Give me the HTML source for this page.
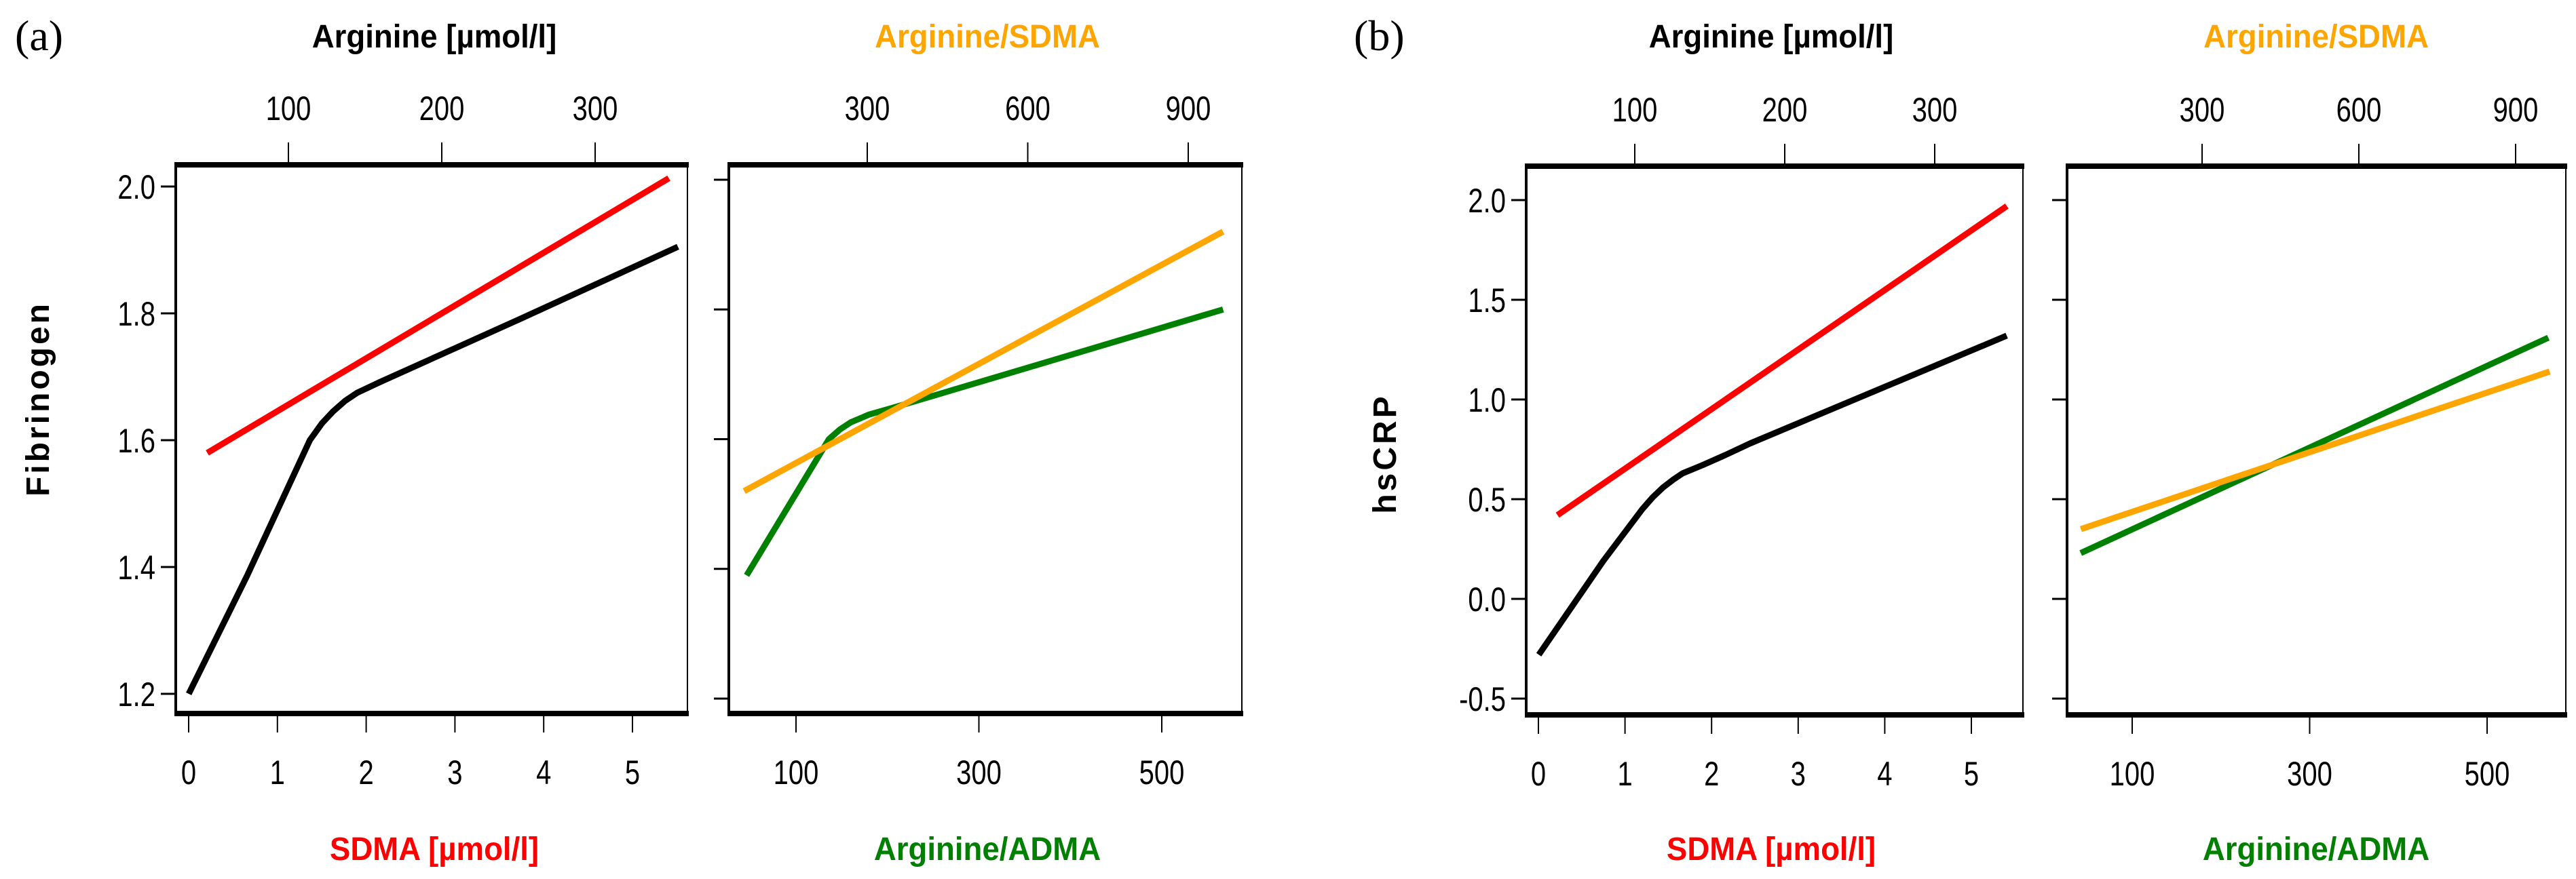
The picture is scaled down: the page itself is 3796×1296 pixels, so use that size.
<!DOCTYPE html>
<html><head><meta charset="utf-8"><style>
html,body{margin:0;padding:0;background:#fff;}
svg{display:block;}
</style></head><body>
<svg id="chart" width="3796" height="1296" viewBox="0 0 3796 1296" xmlns="http://www.w3.org/2000/svg"></svg>
<script>
// ---- data ----
// Panel a (Fibrinogen)
const aSdmaX = [0.21, 5.41];
const aSdmaY = [1.58, 2.013];
const aArgX = [35, 73, 114, 122, 129, 137, 145, 160, 250, 354];
const aArgY = [1.2, 1.386, 1.6, 1.627, 1.645, 1.662, 1.675, 1.692, 1.79, 1.905];
const aArgSdmaX = [70, 965];
const aArgSdmaY = [1.52, 1.92];
const aArgAdmaX = [46, 136, 148, 160, 180, 205, 353, 567];
const aArgAdmaY = [1.39, 1.60, 1.615, 1.626, 1.638, 1.648, 1.71, 1.80];
// Panel b (hsCRP)
const bSdmaX = [0.22, 5.41];
const bSdmaY = [0.42, 1.97];
const bArgX = [36, 79, 105, 112, 119, 126, 132, 145, 160, 177, 348];
const bArgY = [-0.28, 0.19, 0.45, 0.51, 0.56, 0.60, 0.63, 0.67, 0.72, 0.78, 1.32];
const bArgSdmaX = [68, 965];
const bArgSdmaY = [0.35, 1.14];
const bArgAdmaX = [42, 569];
const bArgAdmaY = [0.23, 1.31];
// tick labels
const aYTicks = [1.2, 1.4, 1.6, 1.8, 2.0];
const aYLabels = ["1.2", "1.4", "1.6", "1.8", "2.0"];
const bYTicks = [-0.5, 0, 0.5, 1.0, 1.5, 2.0];
const bYLabels = ["-0.5", "0.0", "0.5", "1.0", "1.5", "2.0"];
const sdmaTicks = [0, 1, 2, 3, 4, 5];
const argTicks = [100, 200, 300];
const argAdmaTicks = [100, 300, 500];
const argSdmaTicks = [300, 600, 900];

const NS = "http://www.w3.org/2000/svg";
const svg = document.getElementById("chart");
function mk(tag, attrs, parent) {
  const e = document.createElementNS(NS, tag);
  for (const k in attrs) e.setAttribute(k, attrs[k]);
  (parent || svg).appendChild(e);
  return e;
}
function lin(d0, d1, r0, r1) { return v => r0 + (v - d0) * (r1 - r0) / (d1 - d0); }
function txt(x, y, s, size, fill, anchor, weight, sx, name) {
  const t = mk("text", {x: 0, y: 0, "font-size": size, fill: fill, "text-anchor": anchor, "font-weight": weight,
    "font-family": "Liberation Sans, sans-serif",
    transform: `translate(${x},${y}) scale(${sx},1)`});
  
  
  t.textContent = s;
  return t;
}
function series(xs, ys, sx, sy, color, w, name) {
  const d = xs.map((v, i) => (i ? "L" : "M") + sx(v).toFixed(1) + "," + sy(ys[i]).toFixed(1)).join(" ");
  const p = mk("path", {d: d, fill: "none", stroke: color, "stroke-width": w, "stroke-linejoin": "round"});
  
  
}
function box(l, r, t, b, name) {
  const g = mk("g", {});
  
  
  mk("line", {x1: l, y1: t, x2: l, y2: b, stroke: "#000", "stroke-width": 4}, g);
  mk("line", {x1: r, y1: t, x2: r, y2: b, stroke: "#000", "stroke-width": 2}, g);
  mk("line", {x1: l - 2, y1: t, x2: r + 2, y2: t, stroke: "#000", "stroke-width": 8}, g);
  mk("line", {x1: l - 2, y1: b, x2: r + 2, y2: b, stroke: "#000", "stroke-width": 8}, g);
}
function xTicksTop(ticks, sx, top, name) {
  ticks.forEach(v => {
    const l = mk("line", {x1: sx(v), y1: top - 33, x2: sx(v), y2: top, stroke: "#000", "stroke-width": 2});
    
    
    txt(sx(v), top - 66, String(v), 50, "#000", "middle", "normal", 0.8, name + '-label');
  });
}
function xTicksBottom(ticks, sx, bot, name) {
  ticks.forEach(v => {
    const l = mk("line", {x1: sx(v), y1: bot, x2: sx(v), y2: bot + 28, stroke: "#000", "stroke-width": 2});
    
    
    txt(sx(v), bot + 104, String(v), 50, "#000", "middle", "normal", 0.8, name + '-label');
  });
}
function yTicks(ticks, labels, sy, left, showLabels, name) {
  ticks.forEach((v, i) => {
    const l = mk("line", {x1: left - 22, y1: sy(v), x2: left, y2: sy(v), stroke: "#000", "stroke-width": 3});
    
    
    if (showLabels) txt(left - 30, sy(v) + 18, labels[i], 50, "#000", "end", "normal", 0.8, name + '-label');
  });
}

// ---- Panel a ----
{
  const L1 = 259, R1 = 1013, L2 = 1074, R2 = 1830, T = 243, B = 1052;
  const y1 = lin(1.2, 2.0, 1023, 275);
  const y2 = lin(1.2, 2.0, 1030, 265);
  const xs = lin(0, 5, 278, 932);
  const xa = lin(100, 300, 425, 877);
  const xad = lin(100, 500, 1173, 1712);
  const xsd = lin(300, 900, 1278, 1751);
  box(L1, R1, T, B, "panel-a-left-frame");
  box(L2, R2, T, B, "panel-a-right-frame");
  xTicksTop(argTicks, xa, T, "a-arginine-axis");
  xTicksTop(argSdmaTicks, xsd, T, "a-arg-sdma-axis");
  xTicksBottom(sdmaTicks, xs, B, "a-sdma-axis");
  xTicksBottom(argAdmaTicks, xad, B, "a-arg-adma-axis");
  yTicks(aYTicks, aYLabels, y1, L1, true, "a-y-axis");
  yTicks(aYTicks, aYLabels, y2, L2, false, "a-right-y-axis");
  series(aArgX, aArgY, xa, y1, "#000", 9, "a-arginine-line");
  series(aSdmaX, aSdmaY, xs, y1, "#ff0000", 9, "a-sdma-line");
  series(aArgAdmaX, aArgAdmaY, xad, y2, "#008000", 9, "a-arg-adma-line");
  series(aArgSdmaX, aArgSdmaY, xsd, y2, "#ffa500", 9, "a-arg-sdma-line");
  txt(640, 70, "Arginine [µmol/l]", 48, "#000", "middle", "bold", 0.95, "a-arginine-title");
  txt(1455, 70, "Arginine/SDMA", 48, "#ffa500", "middle", "bold", 0.95, "a-arg-sdma-title");
  txt(640, 1268, "SDMA [µmol/l]", 48, "#ff0000", "middle", "bold", 0.95, "a-sdma-title");
  txt(1455, 1268, "Arginine/ADMA", 48, "#008000", "middle", "bold", 0.95, "a-arg-adma-title");
  const f = mk("text", {x: 0, y: 0, "font-size": 48, "font-weight": "bold", "text-anchor": "middle", "letter-spacing": 4,
    "font-family": "Liberation Sans, sans-serif", transform: "translate(72,588) rotate(-90)"});
  
  
  f.textContent = "Fibrinogen";
  const p = mk("text", {x: 22, y: 74, "font-size": 64, "font-family": "Liberation Serif, serif", "font-weight": "normal"});
  
  
  p.textContent = "(a)";
}
// ---- Panel b ----
{
  const L1 = 2249, R1 = 2981, L2 = 3046, R2 = 3781, T = 245, B = 1054;
  const y1 = lin(0, 2.0, 883, 295);
  const xs = lin(0, 5, 2267, 2905);
  const xa = lin(100, 300, 2409, 2851);
  const xad = lin(100, 500, 3142, 3665);
  const xsd = lin(300, 900, 3245, 3707);
  box(L1, R1, T, B, "panel-b-left-frame");
  box(L2, R2, T, B, "panel-b-right-frame");
  xTicksTop(argTicks, xa, T, "b-arginine-axis");
  xTicksTop(argSdmaTicks, xsd, T, "b-arg-sdma-axis");
  xTicksBottom(sdmaTicks, xs, B, "b-sdma-axis");
  xTicksBottom(argAdmaTicks, xad, B, "b-arg-adma-axis");
  yTicks(bYTicks, bYLabels, y1, L1, true, "b-y-axis");
  yTicks(bYTicks, bYLabels, y1, L2, false, "b-right-y-axis");
  series(bArgX, bArgY, xa, y1, "#000", 9, "b-arginine-line");
  series(bSdmaX, bSdmaY, xs, y1, "#ff0000", 9, "b-sdma-line");
  series(bArgAdmaX, bArgAdmaY, xad, y1, "#008000", 9, "b-arg-adma-line");
  series(bArgSdmaX, bArgSdmaY, xsd, y1, "#ffa500", 9, "b-arg-sdma-line");
  txt(2610, 70, "Arginine [µmol/l]", 48, "#000", "middle", "bold", 0.95, "b-arginine-title");
  txt(3413, 70, "Arginine/SDMA", 48, "#ffa500", "middle", "bold", 0.95, "b-arg-sdma-title");
  txt(2610, 1268, "SDMA [µmol/l]", 48, "#ff0000", "middle", "bold", 0.95, "b-sdma-title");
  txt(3413, 1268, "Arginine/ADMA", 48, "#008000", "middle", "bold", 0.95, "b-arg-adma-title");
  const f = mk("text", {x: 0, y: 0, "font-size": 48, "font-weight": "bold", "text-anchor": "middle", "letter-spacing": 4,
    "font-family": "Liberation Sans, sans-serif", transform: "translate(2057,669) rotate(-90)"});
  
  
  f.textContent = "hsCRP";
  const p = mk("text", {x: 1995, y: 74, "font-size": 64, "font-family": "Liberation Serif, serif", "font-weight": "normal"});
  
  
  p.textContent = "(b)";
}
</script>
</body></html>
